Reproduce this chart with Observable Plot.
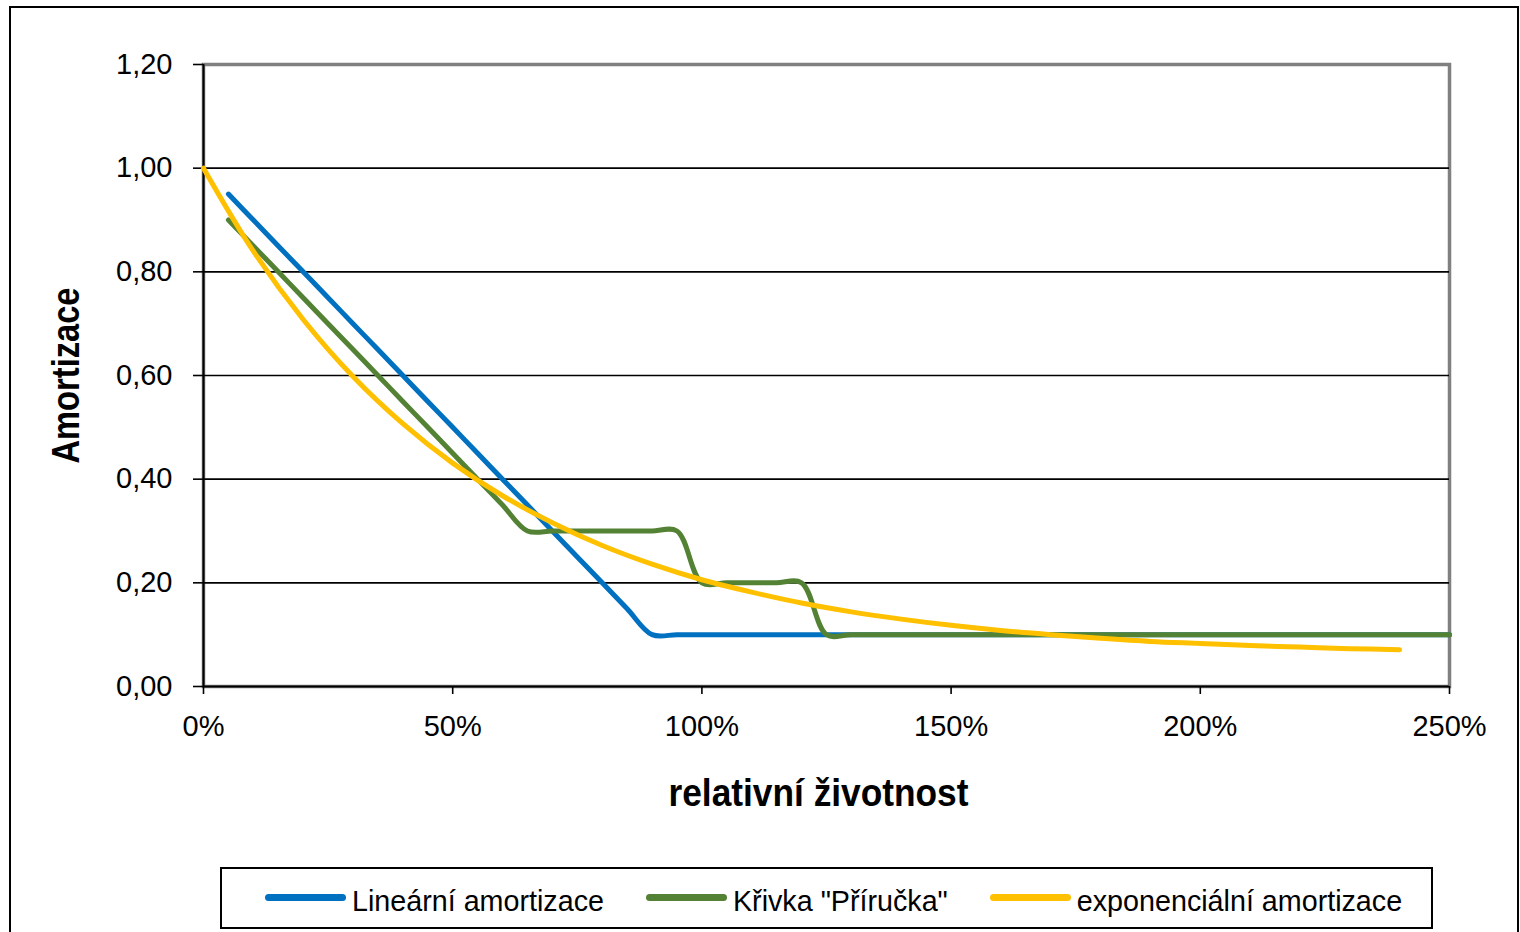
<!DOCTYPE html>
<html><head><meta charset="utf-8">
<script src="https://cdn.jsdelivr.net/npm/d3@7"></script>
<script src="https://cdn.jsdelivr.net/npm/@observablehq/plot@0.6"></script>
<style>
html,body{margin:0;padding:0;background:#fff;overflow:hidden;}
#wrap{position:relative;width:1520px;height:932px;font-family:"Liberation Sans",Arial,sans-serif;}
#border{position:absolute;left:9px;top:6px;width:1510px;height:1000px;border:2px solid #000;box-sizing:border-box;}
#chart{position:absolute;left:0;top:0;}
#legend{position:absolute;left:220px;top:867px;width:1213px;height:62px;box-sizing:border-box;border:2px solid #000;display:flex;align-items:center;padding-left:43px;font-size:28.7px;color:#000;}
.item{display:flex;align-items:center;margin-right:42px;white-space:nowrap}
.sw{width:81px;height:7px;border-radius:3.5px;margin-right:6px;position:relative;top:-1px}
.item span{position:relative;top:3px}
</style></head>
<body>
<div id="wrap"><div id="border"></div><div id="chart"></div><div id="legend"></div></div>
<script>
// ---- data ----
const seriesNames = ["Lineární amortizace", "Křivka \"Příručka\"", "exponenciální amortizace"];
const seriesColors = ["#0070C0", "#548235", "#FFC000"];

const linX = [0.05,0.10,0.15,0.20,0.25,0.30,0.35,0.40,0.45,0.50,0.55,0.60,0.65,0.70,0.75,0.80,0.85,0.90,0.95,1.00,1.10,1.20,1.30,1.40,1.50,1.60,1.70,1.80,1.90,2.00,2.10,2.20,2.30,2.40,2.50];
const linY = [0.95,0.90,0.85,0.80,0.75,0.70,0.65,0.60,0.55,0.50,0.45,0.40,0.35,0.30,0.25,0.20,0.15,0.10,0.10,0.10,0.10,0.10,0.10,0.10,0.10,0.10,0.10,0.10,0.10,0.10,0.10,0.10,0.10,0.10,0.10];

const grnX = [0.05,0.10,0.15,0.20,0.25,0.30,0.35,0.40,0.45,0.50,0.55,0.60,0.65,0.70,0.75,0.80,0.85,0.90,0.95,1.00,1.05,1.10,1.15,1.20,1.25,1.30,1.40,1.50,1.60,1.70,1.80,1.90,2.00,2.10,2.20,2.30,2.40,2.50];
const grnY = [0.90,0.85,0.80,0.75,0.70,0.65,0.60,0.55,0.50,0.45,0.40,0.35,0.30,0.30,0.30,0.30,0.30,0.30,0.30,0.20,0.20,0.20,0.20,0.20,0.10,0.10,0.10,0.10,0.10,0.10,0.10,0.10,0.10,0.10,0.10,0.10,0.10,0.10];

const expX = [0.0,0.1,0.2,0.3,0.4,0.5,0.6,0.7,0.8,0.9,1.0,1.1,1.2,1.3,1.4,1.5,1.6,1.7,1.8,1.9,2.0,2.1,2.2,2.3,2.4];
const expY = [1.000,0.840,0.708,0.598,0.507,0.431,0.368,0.316,0.272,0.236,0.206,0.182,0.161,0.144,0.130,0.118,0.108,0.100,0.093,0.087,0.083,0.079,0.076,0.073,0.071];

const xTicks = [0, 0.5, 1.0, 1.5, 2.0, 2.5];
const yTicks = [0, 0.2, 0.4, 0.6, 0.8, 1.0, 1.2];
const gridY = [0.2, 0.4, 0.6, 0.8, 1.0];
const xTitle = "relativní životnost";
const yTitle = "Amortizace";

// ---- build ----
const toRows = (xs, ys, s) => xs.map((x, i) => ({x, y: ys[i], s}));
const lin = toRows(linX, linY, seriesNames[0]);
const grn = toRows(grnX, grnY, seriesNames[1]);
const exp = toRows(expX, expY, seriesNames[2]);

const chart = Plot.plot({
  width: 1520, height: 850,
  marginLeft: 203, marginRight: 71, marginTop: 64, marginBottom: 164,
  style: {fontFamily: "'Liberation Sans', Arial, sans-serif", fontSize: "29px", color: "#000", background: "transparent", overflow: "visible"},
  x: {domain: [0, 2.5]},
  y: {domain: [0, 1.2]},
  marks: [
    Plot.frame({stroke: "#808080", strokeWidth: 3.5}),
    Plot.ruleY(gridY, {stroke: "#000", strokeWidth: 1.6}),
    Plot.ruleY([0], {stroke: "#000", strokeWidth: 2}),
    Plot.ruleX([0], {stroke: "#000", strokeWidth: 2}),
    Plot.axisX({ticks: xTicks, tickSize: 8, tickPadding: 21, tickFormat: d => Math.round(d * 100) + "%", label: null, fontSize: 29, stroke: "#000", strokeWidth: 1.6}),
    Plot.axisY({ticks: yTicks, tickSize: 10, tickPadding: 21, tickFormat: d => d.toFixed(2).replace(".", ","), label: null, fontSize: 29, stroke: "#000", strokeWidth: 1.6}),
    Plot.line(lin, {x: "x", y: "y", stroke: seriesColors[0], strokeWidth: 5, curve: "catmull-rom", strokeLinecap: "round"}),
    Plot.line(grn, {x: "x", y: "y", stroke: seriesColors[1], strokeWidth: 5, curve: "catmull-rom", strokeLinecap: "round"}),
    Plot.line(exp, {x: "x", y: "y", stroke: seriesColors[2], strokeWidth: 5, curve: "catmull-rom", strokeLinecap: "round"}),
    Plot.text([xTitle], {text: d => d, frameAnchor: "bottom", textAnchor: "middle", lineAnchor: "middle", dx: -8, dy: 107, fontSize: 39, fontWeight: "bold"}),
    Plot.text([yTitle], {text: d => d, frameAnchor: "left", textAnchor: "middle", lineAnchor: "middle", rotate: -90, dx: -137, fontSize: 39, fontWeight: "bold"})
  ]
});
// condensed title rendering as in the original
d3.select(chart).selectAll("text").each(function() {
  const t = this.textContent;
  if (t === xTitle) d3.select(this).attr("textLength", 300).attr("lengthAdjust", "spacingAndGlyphs");
  if (t === yTitle) d3.select(this).attr("textLength", 176).attr("lengthAdjust", "spacingAndGlyphs");
});
document.getElementById("chart").appendChild(chart);

const legend = document.getElementById("legend");
seriesNames.forEach((n, i) => {
  const it = document.createElement("div");
  it.className = "item";
  const sw = document.createElement("div");
  sw.className = "sw";
  sw.style.background = seriesColors[i];
  const t = document.createElement("span");
  t.textContent = n;
  it.appendChild(sw); it.appendChild(t);
  legend.appendChild(it);
});
</script>
</body></html>
